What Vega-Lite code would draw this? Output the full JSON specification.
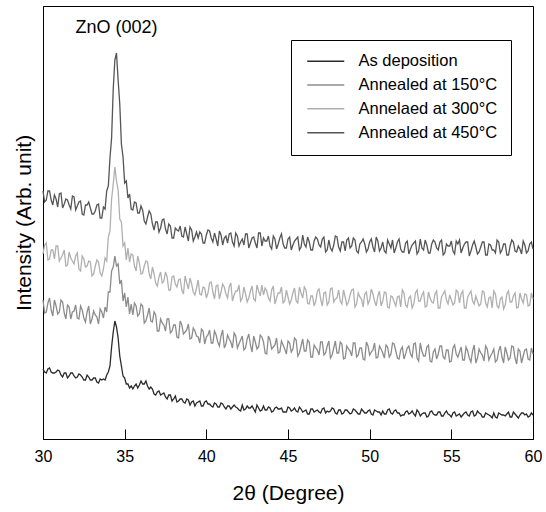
{
 "$schema": "https://vega.github.io/schema/vega-lite/v6.json",
 "width": 490, "height": 433,
 "autosize": {"type": "none"},
 "padding": {"left": 43, "top": 6, "right": 13, "bottom": 73},
 "background": "white",
 "config": {
  "font": "Liberation Sans",
  "view": {"stroke": "black", "strokeWidth": 1},
  "axis": {"grid": false, "domainColor": "black", "tickColor": "black", "labelColor": "black", "titleColor": "black", "titleFontWeight": "normal", "labelFont": "Liberation Sans", "titleFont": "Liberation Sans"}
 },
 "layer": [
  {
   "data": {"values": [
{"x":30,"a":70,"b":139,"c":185,"d":248},
{"x":30.2,"a":66,"b":127,"c":196,"d":239},
{"x":30.4,"a":71,"b":141,"c":180,"d":248},
{"x":30.6,"a":66,"b":123,"c":189,"d":234},
{"x":30.8,"a":67,"b":133,"c":193,"d":240},
{"x":31,"a":68,"b":127,"c":178,"d":245},
{"x":31.2,"a":62,"b":137,"c":184,"d":231},
{"x":31.4,"a":66,"b":120,"c":173,"d":240},
{"x":31.6,"a":63,"b":132,"c":187,"d":234},
{"x":31.8,"a":66,"b":127,"c":178,"d":243},
{"x":32,"a":61,"b":134,"c":183,"d":229},
{"x":32.2,"a":65,"b":120,"c":170,"d":237},
{"x":32.4,"a":62,"b":129,"c":183,"d":225},
{"x":32.6,"a":59,"b":117,"c":172,"d":234},
{"x":32.8,"a":62,"b":133,"c":178,"d":237},
{"x":33,"a":59,"b":120,"c":163,"d":225},
{"x":33.2,"a":61,"b":124,"c":173,"d":228},
{"x":33.4,"a":56,"b":115,"c":177,"d":235},
{"x":33.6,"a":59,"b":127,"c":163,"d":221},
{"x":33.7,"a":60,"b":121,"c":170,"d":232},
{"x":33.8,"a":59,"b":132,"c":181,"d":230},
{"x":33.9,"a":64,"b":127,"c":178,"d":248},
{"x":34,"a":67,"b":147,"c":202,"d":253},
{"x":34.1,"a":73,"b":147,"c":208,"d":281},
{"x":34.2,"a":92,"b":168,"c":240,"d":301},
{"x":34.3,"a":107,"b":172,"c":255,"d":350},
{"x":34.4,"a":118,"b":183,"c":272,"d":379},
{"x":34.5,"a":112,"b":173,"c":258,"d":386},
{"x":34.6,"a":101,"b":175,"c":249,"d":359},
{"x":34.7,"a":83,"b":155,"c":220,"d":335},
{"x":34.8,"a":73,"b":159,"c":217,"d":295},
{"x":34.9,"a":63,"b":138,"c":193,"d":282},
{"x":35,"a":61,"b":146,"c":196,"d":256},
{"x":35.1,"a":55,"b":132,"c":179,"d":258},
{"x":35.2,"a":55,"b":142,"c":191,"d":241},
{"x":35.3,"a":51,"b":125,"c":177,"d":245},
{"x":35.4,"a":53,"b":135,"c":185,"d":230},
{"x":35.6,"a":53,"b":136,"c":173,"d":237},
{"x":35.8,"a":51,"b":123,"c":183,"d":226},
{"x":36,"a":58,"b":135,"c":165,"d":233},
{"x":36.2,"a":55,"b":116,"c":173,"d":218},
{"x":36.4,"a":53,"b":124,"c":177,"d":222},
{"x":36.6,"a":52,"b":118,"c":160,"d":225},
{"x":36.8,"a":45,"b":127,"c":165,"d":209},
{"x":37,"a":47,"b":108,"c":153,"d":217},
{"x":37.2,"a":44,"b":120,"c":167,"d":211},
{"x":37.4,"a":46,"b":114,"c":158,"d":220},
{"x":37.6,"a":40,"b":120,"c":162,"d":205},
{"x":37.8,"a":44,"b":106,"c":149,"d":213},
{"x":38,"a":40,"b":114,"c":163,"d":201},
{"x":38.2,"a":37,"b":102,"c":152,"d":209},
{"x":38.4,"a":40,"b":118,"c":160,"d":213},
{"x":38.6,"a":37,"b":105,"c":145,"d":202},
{"x":38.8,"a":40,"b":109,"c":156,"d":205},
{"x":39,"a":34,"b":100,"c":161,"d":212},
{"x":39.2,"a":38,"b":111,"c":147,"d":198},
{"x":39.4,"a":36,"b":103,"c":151,"d":207},
{"x":39.6,"a":38,"b":96,"c":145,"d":207},
{"x":39.8,"a":33,"b":108,"c":152,"d":196},
{"x":40,"a":38,"b":102,"c":141,"d":204},
{"x":40.2,"a":35,"b":109,"c":156,"d":208},
{"x":40.4,"a":32,"b":96,"c":147,"d":197},
{"x":40.6,"a":35,"b":104,"c":153,"d":200},
{"x":40.8,"a":32,"b":93,"c":140,"d":208},
{"x":41,"a":35,"b":109,"c":155,"d":194},
{"x":41.2,"a":30,"b":95,"c":145,"d":203},
{"x":41.4,"a":33,"b":100,"c":152,"d":205},
{"x":41.6,"a":32,"b":91,"c":138,"d":197},
{"x":41.8,"a":32,"b":103,"c":148,"d":206},
{"x":42,"a":29,"b":95,"c":154,"d":193},
{"x":42.2,"a":34,"b":103,"c":141,"d":200},
{"x":42.4,"a":30,"b":91,"c":145,"d":205},
{"x":42.6,"a":31,"b":105,"c":141,"d":191},
{"x":42.8,"a":33,"b":87,"c":153,"d":201},
{"x":43,"a":27,"b":97,"c":138,"d":196},
{"x":43.2,"a":31,"b":92,"c":148,"d":206},
{"x":43.4,"a":29,"b":102,"c":154,"d":193},
{"x":43.6,"a":29,"b":86,"c":151,"d":198},
{"x":43.8,"a":32,"b":103,"c":141,"d":203},
{"x":44,"a":27,"b":90,"c":149,"d":190},
{"x":44.2,"a":31,"b":94,"c":135,"d":200},
{"x":44.4,"a":30,"b":86,"c":146,"d":195},
{"x":44.6,"a":31,"b":98,"c":152,"d":205},
{"x":44.8,"a":27,"b":90,"c":138,"d":191},
{"x":45,"a":32,"b":98,"c":142,"d":200},
{"x":45.2,"a":28,"b":87,"c":139,"d":189},
{"x":45.4,"a":31,"b":101,"c":151,"d":198},
{"x":45.6,"a":27,"b":83,"c":136,"d":202},
{"x":45.8,"a":30,"b":93,"c":146,"d":192},
{"x":46,"a":28,"b":88,"c":152,"d":195},
{"x":46.2,"a":25,"b":99,"c":136,"d":202},
{"x":46.4,"a":30,"b":82,"c":143,"d":189},
{"x":46.6,"a":27,"b":94,"c":133,"d":198},
{"x":46.8,"a":29,"b":89,"c":148,"d":200},
{"x":47,"a":26,"b":97,"c":140,"d":192},
{"x":47.2,"a":31,"b":84,"c":146,"d":202},
{"x":47.4,"a":28,"b":93,"c":134,"d":189},
{"x":47.6,"a":28,"b":81,"c":150,"d":191},
{"x":47.8,"a":30,"b":91,"c":137,"d":194},
{"x":48,"a":25,"b":86,"c":141,"d":202},
{"x":48.2,"a":29,"b":97,"c":138,"d":188},
{"x":48.4,"a":26,"b":80,"c":149,"d":197},
{"x":48.6,"a":29,"b":93,"c":134,"d":199},
{"x":48.8,"a":25,"b":88,"c":144,"d":191},
{"x":49,"a":30,"b":96,"c":150,"d":201},
{"x":49.2,"a":27,"b":82,"c":135,"d":188},
{"x":49.4,"a":25,"b":91,"c":142,"d":195},
{"x":49.6,"a":28,"b":80,"c":132,"d":200},
{"x":49.8,"a":26,"b":97,"c":147,"d":187},
{"x":50,"a":29,"b":84,"c":139,"d":197},
{"x":50.2,"a":24,"b":89,"c":145,"d":192},
{"x":50.4,"a":28,"b":81,"c":133,"d":202},
{"x":50.6,"a":27,"b":93,"c":148,"d":188},
{"x":50.8,"a":28,"b":86,"c":138,"d":197},
{"x":51,"a":25,"b":94,"c":146,"d":186},
{"x":51.2,"a":30,"b":82,"c":131,"d":195},
{"x":51.4,"a":25,"b":96,"c":142,"d":199},
{"x":51.6,"a":29,"b":88,"c":133,"d":191},
{"x":51.8,"a":26,"b":80,"c":143,"d":200},
{"x":52,"a":24,"b":92,"c":149,"d":187},
{"x":52.2,"a":27,"b":85,"c":134,"d":196},
{"x":52.4,"a":25,"b":93,"c":141,"d":185},
{"x":52.6,"a":28,"b":82,"c":131,"d":194},
{"x":52.8,"a":23,"b":96,"c":146,"d":198},
{"x":53,"a":27,"b":78,"c":138,"d":188},
{"x":53.2,"a":25,"b":88,"c":144,"d":191},
{"x":53.4,"a":26,"b":83,"c":132,"d":199},
{"x":53.6,"a":23,"b":94,"c":147,"d":186},
{"x":53.8,"a":28,"b":77,"c":137,"d":195},
{"x":54,"a":24,"b":90,"c":145,"d":197},
{"x":54.2,"a":27,"b":85,"c":131,"d":189},
{"x":54.4,"a":23,"b":93,"c":142,"d":199},
{"x":54.6,"a":26,"b":80,"c":148,"d":186},
{"x":54.8,"a":25,"b":89,"c":135,"d":193},
{"x":55,"a":22,"b":78,"c":139,"d":198},
{"x":55.2,"a":27,"b":94,"c":136,"d":185},
{"x":55.4,"a":24,"b":82,"c":147,"d":195},
{"x":55.6,"a":22,"b":92,"c":145,"d":186},
{"x":55.8,"a":26,"b":79,"c":131,"d":195},
{"x":56,"a":24,"b":88,"c":142,"d":197},
{"x":56.2,"a":27,"b":77,"c":148,"d":188},
{"x":56.4,"a":23,"b":94,"c":135,"d":198},
{"x":56.6,"a":28,"b":81,"c":138,"d":185},
{"x":56.8,"a":25,"b":86,"c":135,"d":192},
{"x":57,"a":22,"b":78,"c":147,"d":197},
{"x":57.2,"a":25,"b":90,"c":132,"d":184},
{"x":57.4,"a":23,"b":83,"c":142,"d":194},
{"x":57.6,"a":26,"b":90,"c":148,"d":189},
{"x":57.8,"a":21,"b":79,"c":133,"d":199},
{"x":58,"a":25,"b":93,"c":140,"d":186},
{"x":58.2,"a":24,"b":76,"c":130,"d":195},
{"x":58.4,"a":25,"b":86,"c":145,"d":184},
{"x":58.6,"a":22,"b":81,"c":137,"d":193},
{"x":58.8,"a":27,"b":92,"c":143,"d":197},
{"x":59,"a":23,"b":75,"c":131,"d":187},
{"x":59.2,"a":24,"b":88,"c":146,"d":190},
{"x":59.4,"a":26,"b":83,"c":136,"d":198},
{"x":59.6,"a":25,"b":90,"c":144,"d":186},
{"x":59.8,"a":23,"b":79,"c":134,"d":195},
{"x":60,"a":24,"b":85,"c":140,"d":190},
{"x":30.1,"a":67,"b":126,"c":194,"d":237},
{"x":30.3,"a":70,"b":136,"c":179,"d":248},
{"x":30.5,"a":67,"b":129,"c":189,"d":239},
{"x":30.7,"a":66,"b":139,"c":180,"d":244},
{"x":30.9,"a":69,"b":125,"c":193,"d":232},
{"x":31.1,"a":64,"b":139,"c":181,"d":246},
{"x":31.3,"a":66,"b":126,"c":189,"d":235},
{"x":31.5,"a":61,"b":134,"c":174,"d":239},
{"x":31.7,"a":66,"b":120,"c":181,"d":230},
{"x":31.9,"a":63,"b":128,"c":175,"d":242},
{"x":32.1,"a":62,"b":121,"c":186,"d":233},
{"x":32.3,"a":64,"b":133,"c":168,"d":238},
{"x":32.5,"a":59,"b":121,"c":180,"d":224},
{"x":32.7,"a":64,"b":127,"c":173,"d":234},
{"x":32.9,"a":59,"b":115,"c":177,"d":231},
{"x":33.1,"a":61,"b":128,"c":165,"d":225},
{"x":33.3,"a":57,"b":122,"c":179,"d":234},
{"x":33.5,"a":60,"b":130,"c":166,"d":221},
{"x":35.5,"a":50,"b":124,"c":184,"d":229},
{"x":35.7,"a":55,"b":133,"c":168,"d":236},
{"x":35.9,"a":54,"b":125,"c":176,"d":226},
{"x":36.1,"a":55,"b":133,"c":166,"d":229},
{"x":36.3,"a":58,"b":118,"c":178,"d":215},
{"x":36.5,"a":50,"b":131,"c":165,"d":228},
{"x":36.7,"a":50,"b":117,"c":172,"d":215},
{"x":36.9,"a":44,"b":124,"c":156,"d":217},
{"x":37.1,"a":48,"b":108,"c":162,"d":207},
{"x":37.3,"a":45,"b":116,"c":156,"d":219},
{"x":37.5,"a":42,"b":108,"c":167,"d":210},
{"x":37.7,"a":44,"b":120,"c":149,"d":215},
{"x":37.9,"a":38,"b":108,"c":162,"d":201},
{"x":38.1,"a":43,"b":114,"c":155,"d":211},
{"x":38.3,"a":38,"b":101,"c":159,"d":208},
{"x":38.5,"a":40,"b":114,"c":149,"d":203},
{"x":38.7,"a":36,"b":107,"c":163,"d":212},
{"x":38.9,"a":39,"b":115,"c":150,"d":198},
{"x":39.1,"a":37,"b":101,"c":155,"d":209},
{"x":39.3,"a":33,"b":108,"c":144,"d":202},
{"x":39.5,"a":37,"b":102,"c":159,"d":201},
{"x":39.7,"a":33,"b":110,"c":144,"d":205},
{"x":39.9,"a":37,"b":95,"c":151,"d":196},
{"x":40.1,"a":35,"b":104,"c":146,"d":209},
{"x":40.3,"a":33,"b":96,"c":157,"d":201},
{"x":40.5,"a":36,"b":108,"c":140,"d":206},
{"x":40.7,"a":32,"b":97,"c":154,"d":193},
{"x":40.9,"a":36,"b":103,"c":147,"d":204},
{"x":41.1,"a":32,"b":91,"c":152,"d":201},
{"x":41.3,"a":33,"b":104,"c":141,"d":196},
{"x":41.5,"a":30,"b":97,"c":156,"d":206},
{"x":41.7,"a":34,"b":106,"c":144,"d":193},
{"x":41.9,"a":31,"b":91,"c":148,"d":203},
{"x":42.1,"a":28,"b":99,"c":138,"d":197},
{"x":42.3,"a":29,"b":89,"c":152,"d":194},
{"x":42.5,"a":33,"b":100,"c":137,"d":205},
{"x":42.7,"a":31,"b":94,"c":148,"d":196},
{"x":42.9,"a":30,"b":103,"c":140,"d":202},
{"x":43.1,"a":34,"b":90,"c":154,"d":191},
{"x":43.3,"a":28,"b":104,"c":143,"d":206},
{"x":43.5,"a":33,"b":97,"c":144,"d":201},
{"x":43.7,"a":29,"b":85,"c":148,"d":198},
{"x":43.9,"a":31,"b":99,"c":138,"d":193},
{"x":44.1,"a":28,"b":92,"c":153,"d":203},
{"x":44.3,"a":32,"b":101,"c":141,"d":190},
{"x":44.5,"a":30,"b":87,"c":146,"d":201},
{"x":44.7,"a":27,"b":94,"c":136,"d":195},
{"x":44.9,"a":27,"b":85,"c":149,"d":191},
{"x":45.1,"a":31,"b":96,"c":135,"d":202},
{"x":45.3,"a":29,"b":90,"c":146,"d":194},
{"x":45.5,"a":28,"b":99,"c":138,"d":200},
{"x":45.7,"a":32,"b":86,"c":152,"d":189},
{"x":45.9,"a":27,"b":100,"c":141,"d":204},
{"x":46.1,"a":29,"b":88,"c":149,"d":192},
{"x":46.3,"a":25,"b":97,"c":135,"d":197},
{"x":46.5,"a":30,"b":82,"c":143,"d":189},
{"x":46.7,"a":28,"b":91,"c":138,"d":202},
{"x":46.9,"a":27,"b":84,"c":150,"d":194},
{"x":47.1,"a":30,"b":97,"c":133,"d":200},
{"x":47.3,"a":26,"b":86,"c":147,"d":187},
{"x":47.5,"a":27,"b":98,"c":137,"d":199},
{"x":47.7,"a":31,"b":84,"c":151,"d":188},
{"x":47.9,"a":26,"b":98,"c":140,"d":203},
{"x":48.1,"a":29,"b":86,"c":149,"d":192},
{"x":48.3,"a":25,"b":95,"c":135,"d":197},
{"x":48.5,"a":29,"b":81,"c":142,"d":188},
{"x":48.7,"a":27,"b":90,"c":137,"d":201},
{"x":48.9,"a":26,"b":83,"c":149,"d":193},
{"x":49.1,"a":29,"b":96,"c":132,"d":199},
{"x":49.3,"a":25,"b":84,"c":146,"d":186},
{"x":49.5,"a":30,"b":91,"c":140,"d":197},
{"x":49.7,"a":26,"b":79,"c":145,"d":195},
{"x":49.9,"a":28,"b":93,"c":135,"d":190},
{"x":50.1,"a":25,"b":87,"c":150,"d":200},
{"x":50.3,"a":29,"b":96,"c":138,"d":187},
{"x":50.5,"a":27,"b":82,"c":143,"d":198},
{"x":50.7,"a":24,"b":90,"c":133,"d":191},
{"x":50.9,"a":25,"b":81,"c":147,"d":188},
{"x":51.1,"a":29,"b":92,"c":132,"d":199},
{"x":51.3,"a":26,"b":85,"c":143,"d":191},
{"x":51.5,"a":28,"b":95,"c":137,"d":186},
{"x":51.7,"a":26,"b":81,"c":142,"d":197},
{"x":51.9,"a":23,"b":89,"c":132,"d":190},
{"x":52.1,"a":24,"b":80,"c":146,"d":187},
{"x":52.3,"a":28,"b":91,"c":132,"d":198},
{"x":52.5,"a":26,"b":85,"c":143,"d":190},
{"x":52.7,"a":25,"b":95,"c":135,"d":196},
{"x":52.9,"a":29,"b":81,"c":149,"d":185},
{"x":53.1,"a":23,"b":96,"c":138,"d":200},
{"x":53.3,"a":26,"b":83,"c":147,"d":189},
{"x":53.5,"a":22,"b":92,"c":133,"d":194},
{"x":53.7,"a":27,"b":78,"c":141,"d":186},
{"x":53.9,"a":25,"b":87,"c":136,"d":199},
{"x":54.1,"a":24,"b":80,"c":148,"d":191},
{"x":54.3,"a":27,"b":93,"c":131,"d":197},
{"x":54.5,"a":23,"b":82,"c":145,"d":184},
{"x":54.7,"a":28,"b":89,"c":139,"d":195},
{"x":54.9,"a":24,"b":77,"c":144,"d":193},
{"x":55.1,"a":26,"b":91,"c":134,"d":188},
{"x":55.3,"a":23,"b":85,"c":149,"d":198},
{"x":55.5,"a":25,"b":87,"c":136,"d":199},
{"x":55.7,"a":24,"b":79,"c":148,"d":191},
{"x":55.9,"a":27,"b":92,"c":131,"d":197},
{"x":56.1,"a":23,"b":81,"c":145,"d":183},
{"x":56.3,"a":28,"b":88,"c":138,"d":194},
{"x":56.5,"a":24,"b":76,"c":143,"d":192},
{"x":56.7,"a":26,"b":90,"c":133,"d":187},
{"x":56.9,"a":22,"b":84,"c":148,"d":197},
{"x":57.1,"a":26,"b":93,"c":136,"d":184},
{"x":57.3,"a":24,"b":79,"c":141,"d":195},
{"x":57.5,"a":21,"b":86,"c":131,"d":189},
{"x":57.7,"a":22,"b":77,"c":145,"d":186},
{"x":57.9,"a":26,"b":88,"c":131,"d":197},
{"x":58.1,"a":24,"b":82,"c":142,"d":189},
{"x":58.3,"a":23,"b":92,"c":134,"d":195},
{"x":58.5,"a":27,"b":79,"c":148,"d":184},
{"x":58.7,"a":22,"b":93,"c":137,"d":199},
{"x":58.9,"a":25,"b":81,"c":146,"d":188},
{"x":59.1,"a":21,"b":90,"c":132,"d":193},
{"x":59.3,"a":26,"b":76,"c":140,"d":185},
{"x":59.5,"a":24,"b":89,"c":145,"d":194},
{"x":59.7,"a":22,"b":80,"c":133,"d":188},
{"x":59.9,"a":26,"b":91,"c":146,"d":197}
   ]},
   "transform": [{"fold": ["a", "b", "c", "d"], "as": ["key", "v"]}],
   "mark": {"type": "line", "strokeWidth": 1.3},
   "encoding": {
    "x": {"field": "x", "type": "quantitative", "scale": {"domain": [30, 60], "nice": false},
          "axis": {"values": [30, 35, 40, 45, 50, 55, 60], "tickSize": -10, "labelPadding": 19, "labelFontSize": 16, "title": "2θ (Degree)", "titleFontSize": 21, "titlePadding": 18, "labelFlush": false}},
    "y": {"field": "v", "type": "quantitative", "scale": {"domain": [0, 433], "nice": false, "zero": false},
          "axis": {"labels": false, "ticks": false, "title": "Intensity (Arb. unit)", "titleFontSize": 21, "titlePadding": 9}},
    "order": {"field": "x", "type": "quantitative"},
    "color": {"field": "key", "type": "nominal",
              "scale": {"domain": ["a", "b", "c", "d"], "range": ["#2b2b2b", "#8c8c8c", "#b0b0b0", "#555555"]},
              "legend": {"orient": "none", "legendX": 248, "legendY": 34, "title": null,
                         "strokeColor": "black", "fillColor": "white", "padding": 13,
                         "symbolType": "M-1,0H6.4", "symbolSize": 100, "symbolStrokeWidth": 1.5,
                         "labelOffset": 38, "labelFontSize": 16.5, "labelColor": "black", "rowPadding": 6.8,
                         "labelExpr": "datum.label == 'a' ? 'As deposition' : datum.label == 'b' ? 'Annealed at 150°C' : datum.label == 'c' ? 'Annelaed at 300°C' : 'Annealed at 450°C'"}}
   }
  },
  {
   "data": {"values": [{"x": 34.5, "v": 411, "label": "ZnO (002)"}]},
   "mark": {"type": "text", "fontSize": 18, "font": "Liberation Sans", "color": "black"},
   "encoding": {
    "x": {"field": "x", "type": "quantitative"},
    "y": {"field": "v", "type": "quantitative"},
    "text": {"field": "label"}
   }
  }
 ]
}
